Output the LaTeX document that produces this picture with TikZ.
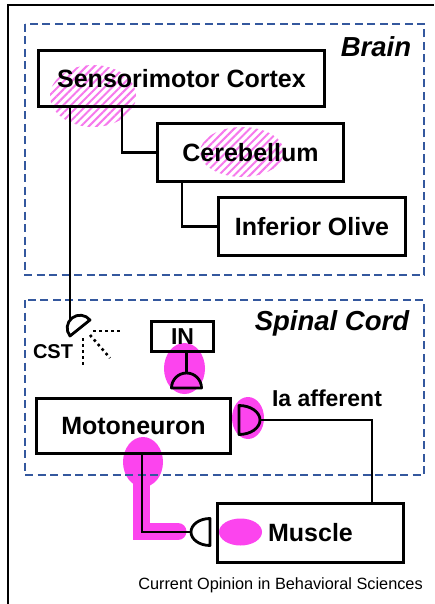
\documentclass[tikz,border=0pt]{standalone}
\usepackage{fontspec}
\setmainfont{Liberation Sans}
\usetikzlibrary{patterns.meta}
\definecolor{zoneblue}{RGB}{52,88,158}
\definecolor{mag}{RGB}{252,68,238}
\definecolor{hatchc}{RGB}{246,120,236}
\begin{document}
\begin{tikzpicture}[x=1pt,y=-1pt,
  box/.style={draw,line width=3.3pt,font=\fontsize{25}{30}\selectfont\bfseries,inner sep=0pt},
  zone/.style={draw=zoneblue,line width=2.8pt,dash pattern=on 8pt off 4.5pt},
  wire/.style={line width=2.4pt},
  syn/.style={line width=2.8pt,line join=round},
  dots/.style={line width=2.6pt,dash pattern=on 2.6pt off 3.4pt},
  blob/.style={fill=mag,draw=none},
  hatched/.style={pattern={Lines[angle=45,distance=5.5pt,line width=2pt]},pattern color=hatchc},
  zonelabel/.style={font=\fontsize{27.5}{32}\selectfont\bfseries\itshape},
  lbl/.style={font=\fontsize{23}{27}\selectfont\bfseries},
]
\useasboundingbox (0,0) rectangle (434,604);
% outer frame
\draw[line width=1.2pt] (8,604) -- (8,5) -- (434,5);

% hatched areas
\path[hatched] (93,96) ellipse[x radius=43,y radius=31];
\path[hatched] (242,152) ellipse[x radius=42,y radius=25];

% magenta blobs
\fill[blob] (184.5,368.5) ellipse[x radius=20.5,y radius=25.5];
\fill[blob] (248,418) ellipse[x radius=16,y radius=21];
\fill[blob] (143,462) ellipse[x radius=20,y radius=25];
\fill[blob] (240.5,532) ellipse[x radius=21.5,y radius=13.5];
\draw[mag,line width=17pt,line cap=round,line join=miter] (141.5,470) -- (141.5,531.5) -- (178,531.5);

% zones
\draw[zone] (25,24) rectangle (424,275);
\draw[zone] (25,300) rectangle (424,475);
\node[zonelabel] (brainlbl) at (376,47) {Brain};
\node[zonelabel] (spinallbl) at (332,323) {Spinal Cord};

% boxes
\node[box,minimum width=286,minimum height=56] (smc) at (181.5,78.5) {Sensorimotor Cortex};
\node[box,minimum width=186,minimum height=58] (cb) at (250.5,152.5) {Cerebellum};
\node[box,minimum width=187,minimum height=58] (io) at (312,226.5) {Inferior Olive};
\node[box,minimum width=62,minimum height=30,font=\fontsize{23}{27}\selectfont\bfseries] (in) at (182.5,336.5) {IN};
\node[box,minimum width=194,minimum height=55] (mn) at (133.5,426) {Motoneuron};
\node[box,minimum width=186,minimum height=59] (mus) at (310.5,533) {Muscle};

% helper coordinates
\coordinate (cstx) at (70,0);
\coordinate (cbx) at (122,0);
\coordinate (iox) at (182,0);
\coordinate (inx) at (186.5,0);
\coordinate (mnx) at (142,0);
\coordinate (iax) at (372,0);
\coordinate (cstin) at (70,320);
\coordinate (inin) at (186.5,373);
\coordinate (iaout) at (260,420);
\coordinate (musin) at (191,532);

% connectors
\draw[wire] (smc.south -| cstx) -- (cstin);
\draw[wire] (smc.south -| cbx) |- (cb.west);
\draw[wire] (cb.south -| iox) |- (io.west);
\draw[wire] (in.south -| inx) -- (inin);
\draw[wire] (iaout) -| (mus.north -| iax);
\draw[wire] (mn.south -| mnx) |- (musin);

% synapses
\draw[syn] (70,336) arc[start angle=141.3,end angle=321.3,radius=12.8] -- cycle;
\draw[syn] (171.5,388) arc[start angle=180,end angle=360,radius=15] -- cycle;
\draw[syn] (239,405.5) arc[start angle=-90,end angle=90,x radius=21,y radius=14.5] -- cycle;
\draw[syn] (210,545.5) arc[start angle=90,end angle=270,x radius=19,y radius=13.5] -- cycle;

% CST dotted spread
\draw[dots] (93,331) -- (122,331);
\draw[dots] (90,335) -- (110,358);
\draw[dots] (83,338) -- (83,366);

% labels
\node[font=\fontsize{20}{24}\selectfont\bfseries] (cst) at (53,352) {CST};
\node[lbl] (ialbl) at (327,398) {Ia afferent};
\node[font=\fontsize{16.3}{19}\selectfont] (cap) at (280.5,585) {Current Opinion in Behavioral Sciences};
\end{tikzpicture}
\end{document}
